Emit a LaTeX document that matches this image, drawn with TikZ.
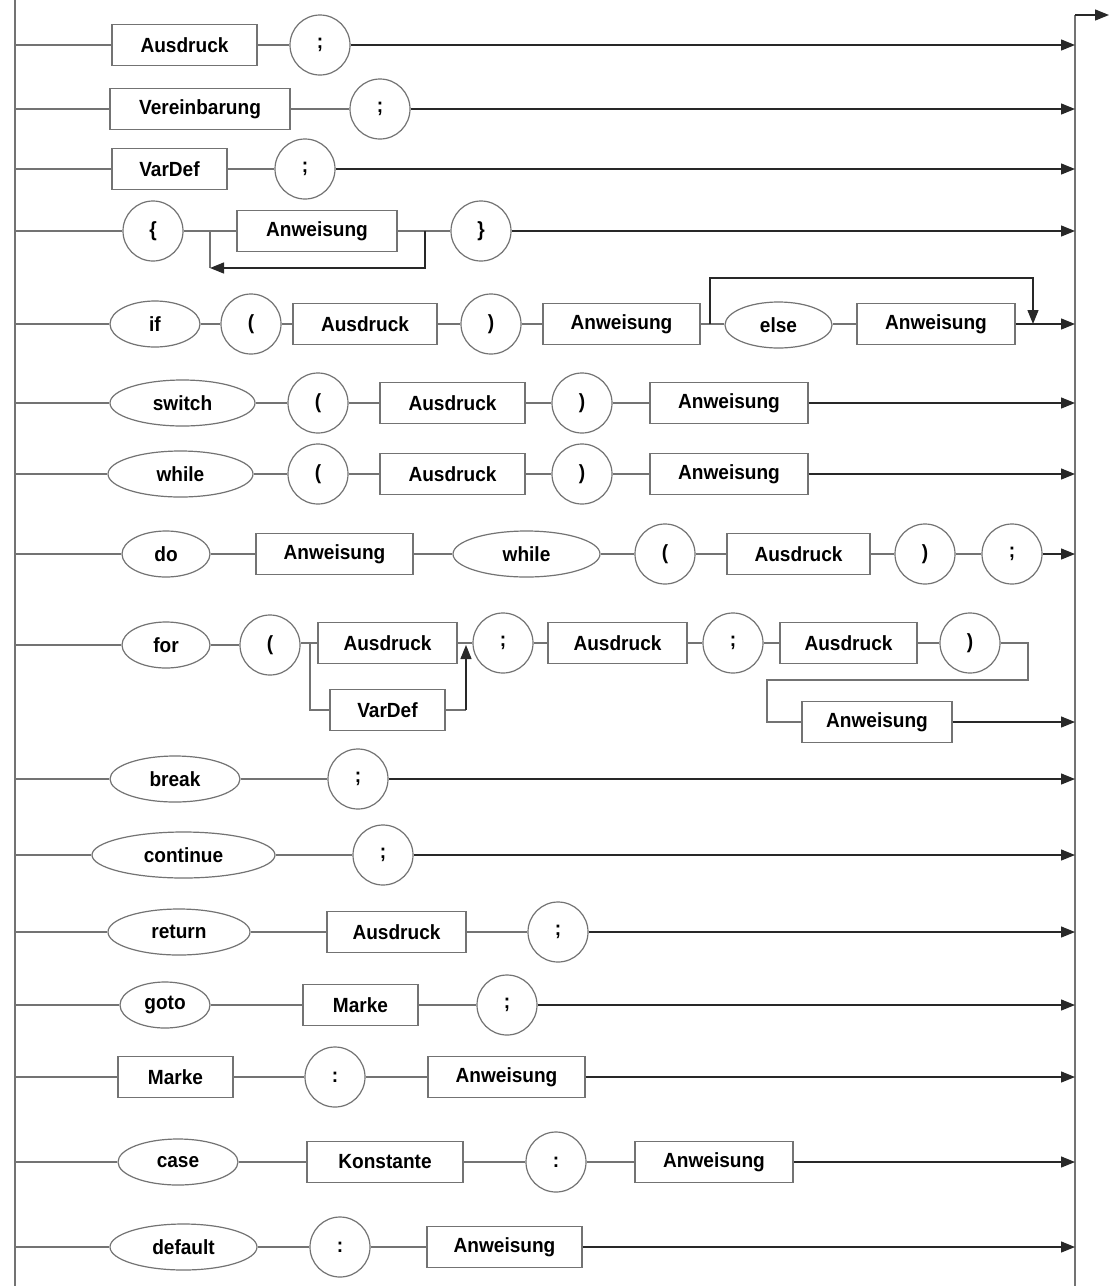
\documentclass[tikz,border=0pt]{standalone}
\usepackage{fontspec}
\setmainfont{Liberation Sans}[FakeStretch=0.93]
\usetikzlibrary{shapes.geometric,arrows.meta}
\definecolor{lc}{RGB}{115,115,115}
\definecolor{ac}{RGB}{40,40,40}
\begin{document}
\begin{tikzpicture}[x=1pt,y=-1pt,
  base/.style={font=\fontsize{20.5}{23}\selectfont\bfseries, text=black, draw=lc, line width=1.2pt, inner sep=0pt},
  term/.style={base, rectangle, minimum height=41},
  kw/.style={base, ellipse, minimum height=46},
  sym/.style={base, ellipse, minimum width=60, minimum height=60},
  conn/.style={draw=lc, line width=1.2pt},
  arr/.style={draw=ac, line width=1.3pt, -{Triangle[length=14pt,width=11pt]}}]
\useasboundingbox (0,0) rectangle (1109,1286);
\fill[white] (0,0) rectangle (1109,1286);
% rails
\coordinate (LT) at (15,0);
\coordinate (LB) at (15,1286);
\coordinate (RT) at (1075,15);
\coordinate (RB) at (1075,1286);
\coordinate (OUT) at (1109,15);
\draw[conn] (LT) -- (LB);
\draw[conn] (RT) -- (RB);
\draw[arr] (RT) -- (OUT);

% row 1
\coordinate (L1) at (15,45); \coordinate (R1) at (1075,45);
\node[term, minimum width=145] (a1) at (184.5,45) {Ausdruck};
\node[sym] (s1) at (320,45) {;};
\draw[conn] (L1) -- (a1); \draw[conn] (a1) -- (s1); \draw[arr] (s1) -- (R1);

% row 2
\coordinate (L2) at (15,109); \coordinate (R2) at (1075,109);
\node[term, minimum width=180] (a2) at (200,109) {Vereinbarung};
\node[sym] (s2) at (380,109) {;};
\draw[conn] (L2) -- (a2); \draw[conn] (a2) -- (s2); \draw[arr] (s2) -- (R2);

% row 3
\coordinate (L3) at (15,169); \coordinate (R3) at (1075,169);
\node[term, minimum width=115] (a3) at (169.5,169) {VarDef};
\node[sym] (s3) at (305,169) {;};
\draw[conn] (L3) -- (a3); \draw[conn] (a3) -- (s3); \draw[arr] (s3) -- (R3);

% row 4
\coordinate (L4) at (15,231); \coordinate (R4) at (1075,231);
\node[sym] (o4) at (153,231) {\{};
\node[term, minimum width=160] (a4) at (317,231) {Anweisung};
\node[sym] (c4) at (481,231) {\}};
\coordinate (b4) at (210,231); \coordinate (b4d) at (210,268);
\coordinate (j4) at (425,231); \coordinate (j4d) at (425,268);
\draw[conn] (L4) -- (o4); \draw[conn] (o4) -- (a4); \draw[conn] (a4) -- (c4); \draw[arr] (c4) -- (R4);
\draw[conn] (b4) -- (b4d);
\draw[arr] (j4) -- (j4d) -- (b4d);

% row 5
\coordinate (L5) at (15,324); \coordinate (R5) at (1075,324);
\node[kw, minimum width=90] (k5) at (155,324) {if};
\node[sym] (o5) at (251,324) {(};
\node[term, minimum width=144] (a5) at (365,324) {Ausdruck};
\node[sym] (c5) at (491,324) {)};
\node[term, minimum width=157] (w5) at (621.5,324) {Anweisung};
\node[kw, minimum width=107] (e5) at (778.5,325) {else};
\node[term, minimum width=158] (x5) at (936,324) {Anweisung};
\coordinate (s5) at (710,324); \coordinate (s5u) at (710,278);
\coordinate (t5u) at (1033,278); \coordinate (t5) at (1033,324);
\draw[conn] (L5) -- (k5); \draw[conn] (k5) -- (o5); \draw[conn] (o5) -- (a5);
\draw[conn] (a5) -- (c5); \draw[conn] (c5) -- (w5); \draw[conn] (w5.east) -- (e5.west |- w5.east);
\draw[conn] (e5.east |- x5.west) -- (x5); \draw[arr] (x5) -- (R5);
\draw[arr] (s5) -- (s5u) -- (t5u) -- (t5);

% row 6
\coordinate (L6) at (15,403); \coordinate (R6) at (1075,403);
\node[kw, minimum width=145] (k6) at (182.5,403) {switch};
\node[sym] (o6) at (318,403) {(};
\node[term, minimum width=145] (a6) at (452.5,403) {Ausdruck};
\node[sym] (c6) at (582,403) {)};
\node[term, minimum width=158] (w6) at (729,403) {Anweisung};
\draw[conn] (L6) -- (k6); \draw[conn] (k6) -- (o6); \draw[conn] (o6) -- (a6);
\draw[conn] (a6) -- (c6); \draw[conn] (c6) -- (w6); \draw[arr] (w6) -- (R6);

% row 7
\coordinate (L7) at (15,474); \coordinate (R7) at (1075,474);
\node[kw, minimum width=145] (k7) at (180.5,474) {while};
\node[sym] (o7) at (318,474) {(};
\node[term, minimum width=145] (a7) at (452.5,474) {Ausdruck};
\node[sym] (c7) at (582,474) {)};
\node[term, minimum width=158] (w7) at (729,474) {Anweisung};
\draw[conn] (L7) -- (k7); \draw[conn] (k7) -- (o7); \draw[conn] (o7) -- (a7);
\draw[conn] (a7) -- (c7); \draw[conn] (c7) -- (w7); \draw[arr] (w7) -- (R7);

% row 8
\coordinate (L8) at (15,554); \coordinate (R8) at (1075,554);
\node[kw, minimum width=88] (k8) at (166,554) {do};
\node[term, minimum width=157] (w8) at (334.5,554) {Anweisung};
\node[kw, minimum width=147] (h8) at (526.5,554) {while};
\node[sym] (o8) at (665,554) {(};
\node[term, minimum width=143] (a8) at (798.5,554) {Ausdruck};
\node[sym] (c8) at (925,554) {)};
\node[sym] (s8) at (1012,554) {;};
\draw[conn] (L8) -- (k8); \draw[conn] (k8) -- (w8); \draw[conn] (w8) -- (h8);
\draw[conn] (h8) -- (o8); \draw[conn] (o8) -- (a8); \draw[conn] (a8) -- (c8);
\draw[conn] (c8) -- (s8); \draw[arr] (s8) -- (R8);

% row 9
\coordinate (L9) at (15,645); \coordinate (R9) at (1075,722);
\node[kw, minimum width=88] (k9) at (166,645) {for};
\node[sym] (o9) at (270,645) {(};
\node[term, minimum width=139] (a9) at (387.5,643) {Ausdruck};
\node[term, minimum width=115] (v9) at (387.5,710) {VarDef};
\node[sym] (s9) at (503,643) {;};
\node[term, minimum width=139] (b9) at (617.5,643) {Ausdruck};
\node[sym] (t9) at (733,643) {;};
\node[term, minimum width=137] (d9) at (848.5,643) {Ausdruck};
\node[sym] (c9) at (970,643) {)};
\node[term, minimum width=150] (w9) at (877,722) {Anweisung};
\coordinate (br9) at (310,643); \coordinate (br9d) at (310,710);
\coordinate (jn9) at (466,645); \coordinate (jn9d) at (466,710);
\coordinate (q9) at (1028,643); \coordinate (q9d) at (1028,680);
\coordinate (u9) at (767,680); \coordinate (u9d) at (767,722);
\draw[conn] (L9) -- (k9); \draw[conn] (k9) -- (o9);
\draw[conn] (o9.east |- br9) -- (a9);
\draw[conn] (br9) -- (br9d) -- (v9);
\draw[conn] (v9) -- (jn9d);
\draw[arr] (jn9d) -- (jn9);
\draw[conn] (a9) -- (s9); \draw[conn] (s9) -- (b9); \draw[conn] (b9) -- (t9);
\draw[conn] (t9) -- (d9); \draw[conn] (d9) -- (c9);
\draw[conn] (c9) -- (q9) -- (q9d) -- (u9) -- (u9d) -- (w9);
\draw[arr] (w9) -- (R9);

% row 10
\coordinate (L10) at (15,779); \coordinate (R10) at (1075,779);
\node[kw, minimum width=130] (k10) at (175,779) {break};
\node[sym] (s10) at (358,779) {;};
\draw[conn] (L10) -- (k10); \draw[conn] (k10) -- (s10); \draw[arr] (s10) -- (R10);

% row 11
\coordinate (L11) at (15,855); \coordinate (R11) at (1075,855);
\node[kw, minimum width=183] (k11) at (183.5,855) {continue};
\node[sym] (s11) at (383,855) {;};
\draw[conn] (L11) -- (k11); \draw[conn] (k11) -- (s11); \draw[arr] (s11) -- (R11);

% row 12
\coordinate (L12) at (15,932); \coordinate (R12) at (1075,932);
\node[kw, minimum width=142] (k12) at (179,932) {return};
\node[term, minimum width=139] (a12) at (396.5,932) {Ausdruck};
\node[sym] (s12) at (558,932) {;};
\draw[conn] (L12) -- (k12); \draw[conn] (k12) -- (a12); \draw[conn] (a12) -- (s12); \draw[arr] (s12) -- (R12);

% row 13
\coordinate (L13) at (15,1005); \coordinate (R13) at (1075,1005);
\node[kw, minimum width=90] (k13) at (165,1005) {goto};
\node[term, minimum width=115] (m13) at (360.5,1005) {Marke};
\node[sym] (s13) at (507,1005) {;};
\draw[conn] (L13) -- (k13); \draw[conn] (k13) -- (m13); \draw[conn] (m13) -- (s13); \draw[arr] (s13) -- (R13);

% row 14
\coordinate (L14) at (15,1077); \coordinate (R14) at (1075,1077);
\node[term, minimum width=115] (m14) at (175.5,1077) {Marke};
\node[sym] (s14) at (335,1077) {:};
\node[term, minimum width=157] (w14) at (506.5,1077) {Anweisung};
\draw[conn] (L14) -- (m14); \draw[conn] (m14) -- (s14); \draw[conn] (s14) -- (w14); \draw[arr] (w14) -- (R14);

% row 15
\coordinate (L15) at (15,1162); \coordinate (R15) at (1075,1162);
\node[kw, minimum width=120] (k15) at (178,1162) {case};
\node[term, minimum width=156] (n15) at (385,1162) {Konstante};
\node[sym] (s15) at (556,1162) {:};
\node[term, minimum width=158] (w15) at (714,1162) {Anweisung};
\draw[conn] (L15) -- (k15); \draw[conn] (k15) -- (n15); \draw[conn] (n15) -- (s15);
\draw[conn] (s15) -- (w15); \draw[arr] (w15) -- (R15);

% row 16
\coordinate (L16) at (15,1247); \coordinate (R16) at (1075,1247);
\node[kw, minimum width=147] (k16) at (183.5,1247) {default};
\node[sym] (s16) at (340,1247) {:};
\node[term, minimum width=155] (w16) at (504.5,1247) {Anweisung};
\draw[conn] (L16) -- (k16); \draw[conn] (k16) -- (s16); \draw[conn] (s16) -- (w16); \draw[arr] (w16) -- (R16);
\end{tikzpicture}
\end{document}
